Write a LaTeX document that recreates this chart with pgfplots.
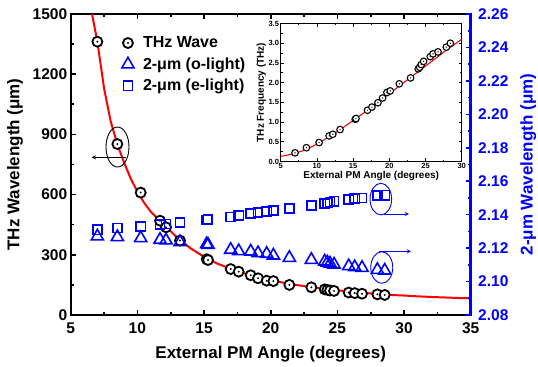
\documentclass[border=0pt]{standalone}
\usepackage{fontspec}
\setmainfont{Liberation Sans}
\usepackage{pgfplots}
\pgfplotsset{compat=1.18}
\definecolor{ablue}{RGB}{0,0,255}
\definecolor{ared}{RGB}{255,0,0}

\pgfdeclareplotmark{codot}{%
  \pgfsetfillcolor{white}%
  \pgfpathcircle{\pgfpointorigin}{\pgfplotmarksize}%
  \pgfusepathqfillstroke
  \pgfsetfillcolor{black}%
  \pgfpathcircle{\pgfpointorigin}{0.22\pgfplotmarksize}%
  \pgfusepathqfill
}

\pgfplotstableread{
x y
7.0 1362
8.5 852
10.25 610
11.7 470
12.15 437
13.2 371
15.2 278
15.3 274
17.0 229
17.6 216
18.5 198
19.05 183
19.7 171
20.2 169
21.4 150
23.05 138
24.05 128
24.25 125
24.45 122
24.75 120
25.85 112
26.3 109
26.85 106
28.0 103
28.55 100
}\thzdata

\pgfplotstableread{
x y
6.6 1500
7.0 1362
7.5 1130
8.0 965
8.5 850
9.0 760
9.5 680
10.0 615
10.5 560
11.0 515
12.0 450
13.0 385
14.0 332
15.0 290
16.0 256
17.0 230
18.0 208
19.0 190
20.0 174
21.0 160
22.0 149
23.0 139
24.0 130
25.0 123
26.0 116
27.0 110
28.0 105
29.0 100
30.0 97
31.0 93
32.0 90
33.0 87.5
34.0 85
35.0 83
}\thzfit

\pgfplotstableread{
x y
7.0 2.1310
8.5 2.1320
10.25 2.1330
11.7 2.1342
12.15 2.1344
13.2 2.1354
15.2 2.1368
15.3 2.1370
17.0 2.1386
17.6 2.1394
18.5 2.1406
19.05 2.1414
19.7 2.1420
20.2 2.1424
21.4 2.1438
23.05 2.1454
24.05 2.1466
24.25 2.1470
24.45 2.1476
24.75 2.1480
25.85 2.1490
26.3 2.1496
26.85 2.1500
28.0 2.1514
28.55 2.1516
}\edata

\pgfplotstableread{
x y
7.0 2.1270
8.5 2.1266
10.25 2.1260
11.7 2.1250
12.15 2.1246
13.2 2.1236
15.2 2.1224
15.3 2.1220
17.0 2.1190
17.6 2.1182
18.5 2.1180
19.05 2.1170
19.7 2.1166
20.2 2.1156
21.4 2.1142
23.05 2.1130
24.05 2.1120
24.25 2.1114
24.45 2.1108
24.75 2.1102
25.85 2.1092
26.3 2.1086
26.85 2.1082
28.0 2.1070
28.55 2.1066
}\odata

\pgfplotstableread{
x y
6.98 0.22
8.55 0.35
10.3 0.48
11.69 0.65
12.2 0.69
13.2 0.81
15.29 1.07
15.4 1.09
16.99 1.30
17.6 1.38
18.43 1.49
19.07 1.61
19.67 1.75
20.13 1.79
21.38 1.97
22.94 2.12
24.0 2.35
24.2 2.39
24.42 2.46
24.74 2.54
25.66 2.66
26.04 2.73
26.73 2.78
27.88 2.90
28.43 3.00
}\freqdata

\pgfplotstableread{
x y
5 0.13
6 0.165
7 0.21
8 0.27
9 0.35
10 0.44
11 0.55
12 0.66
13 0.78
14 0.91
15 1.04
16 1.17
17 1.30
18 1.44
19 1.58
20 1.72
21 1.86
22 2.00
23 2.14
24 2.28
25 2.42
26 2.56
27 2.70
28 2.84
29 2.97
30 3.10
}\freqfit

\begin{document}
\begin{tikzpicture}
\path[use as bounding box] (-70.7bp,-52bp) rectangle (467.3bp,315bp);
\begin{axis}[
  at={(0bp,0bp)}, anchor=south west,
  scale only axis, width=400bp, height=301bp,
  xmin=5, xmax=35, ymin=0, ymax=1500,
  xtick={5,10,...,35}, ytick={0,300,...,1500},
  minor x tick num=1, minor y tick num=1,
  ytick pos=left, xtick pos=both,
  tick align=inside,
  major tick length=5bp, minor tick length=3bp,
  every tick/.style={black, line width=1.6bp},
  axis line style={line width=2.2bp},
  /pgf/number format/assume math mode=true,
  ticklabel style={font=\fontsize{15.5bp}{18bp}\selectfont\bfseries},
  xticklabel style={yshift=-4bp},
  yticklabel style={/pgf/number format/1000 sep={}},
  xlabel={External PM Angle (degrees)},
  ylabel={THz Wavelength (μm)},
  xlabel style={yshift=-6bp},
  ylabel style={yshift=3bp},
  label style={font=\fontsize{17bp}{20bp}\selectfont\bfseries},
  legend style={draw=none, fill=none, at={(0.12,0.935)}, anchor=north west,
    font=\fontsize{16bp}{19bp}\selectfont\bfseries, row sep=6.5bp,
    nodes={inner xsep=3bp, inner ysep=1bp},
    /tikz/every odd column/.append style={column sep=6bp}},
  legend cell align=left,
]
\addplot[ared, line width=2bp, no marks, forget plot] table {\thzfit};
\addlegendimage{only marks, mark=codot, mark size=5bp, black, line width=1.8bp}
\addlegendimage{only marks, mark=triangle, mark size=7bp, ablue, line width=1.6bp}
\addlegendimage{only marks, mark=square, mark size=4.6bp, ablue, line width=1.6bp}
\addplot[only marks, mark=codot, mark size=5bp, black, line width=1.8bp, forget plot] table {\thzdata};
\legend{THz Wave, 2-μm (o-light), 2-μm (e-light)}
\draw[black, line width=0.9bp] (axis cs:8.51,837) ellipse [x radius=11.5bp, y radius=20bp];
\draw[black, line width=0.9bp, -stealth] (axis cs:9.15,786) -- (axis cs:6.58,786);
\end{axis}
\begin{axis}[
  at={(0bp,0bp)}, anchor=south west,
  scale only axis, width=400bp, height=301bp,
  xmin=5, xmax=35, ymin=2.08, ymax=2.26,
  axis y line*=right, axis x line=none,
  ytick={2.08,2.10,2.12,2.14,2.16,2.18,2.20,2.22,2.24,2.26},
  minor y tick num=1,
  tick align=inside,
  major tick length=5bp, minor tick length=3bp,
  every tick/.style={ablue, line width=1.6bp},
  y axis line style={ablue, line width=2.8bp, -},
  /pgf/number format/assume math mode=true,
  yticklabel style={ablue, font=\fontsize{15.5bp}{18bp}\selectfont\bfseries, xshift=4bp,
    /pgf/number format/.cd, fixed, fixed zerofill, precision=2},
  ylabel={2-μm Wavelength (μm)},
  ylabel style={ablue, font=\fontsize{17bp}{20bp}\selectfont\bfseries, yshift=-5bp},
]
\addplot[only marks, mark=square, mark size=4.6bp, ablue, line width=1.6bp] table {\edata};
\addplot[only marks, mark=triangle, mark size=7bp, ablue, line width=1.6bp] table {\odata};
\draw[ablue, line width=0.9bp] (axis cs:28.26,2.1493) ellipse [x radius=10.8bp, y radius=15.8bp];
\draw[ablue, line width=0.9bp, -stealth] (axis cs:28.5,2.1404) -- (axis cs:30.37,2.1404);
\draw[ablue, line width=0.9bp] (axis cs:28.33,2.1084) ellipse [x radius=11bp, y radius=15.8bp];
\draw[ablue, line width=0.9bp, -stealth] (axis cs:28.12,2.1181) -- (axis cs:30.52,2.1181);
\end{axis}
\begin{axis}[
  at={(210bp,153.5bp)}, anchor=south west,
  scale only axis, width=181bp, height=138bp,
  xmin=5, xmax=30, ymin=0, ymax=3.5,
  xtick={5,10,...,30}, ytick={0,0.5,1,1.5,2,2.5,3,3.5},
  minor x tick num=1, minor y tick num=1,
  tick align=inside,
  major tick length=3bp, minor tick length=1.8bp,
  every tick/.style={black, line width=0.7bp},
  axis line style={line width=0.9bp},
  axis background/.style={fill=white},
  /pgf/number format/assume math mode=true,
  ticklabel style={font=\fontsize{7.5bp}{9bp}\selectfont\bfseries, inner sep=1.5bp},
  yticklabel style={/pgf/number format/.cd, fixed, fixed zerofill, precision=1},
  xlabel={External PM Angle (degrees)},
  ylabel={THz Frequency (THz)},
  label style={font=\fontsize{10bp}{12bp}\selectfont\bfseries, inner sep=1bp},
]
\addplot[ared, line width=1.1bp, no marks] table {\freqfit};
\addplot[only marks, mark=codot, mark size=3.3bp, black, line width=1.1bp] table {\freqdata};
\end{axis}
\end{tikzpicture}
\end{document}
